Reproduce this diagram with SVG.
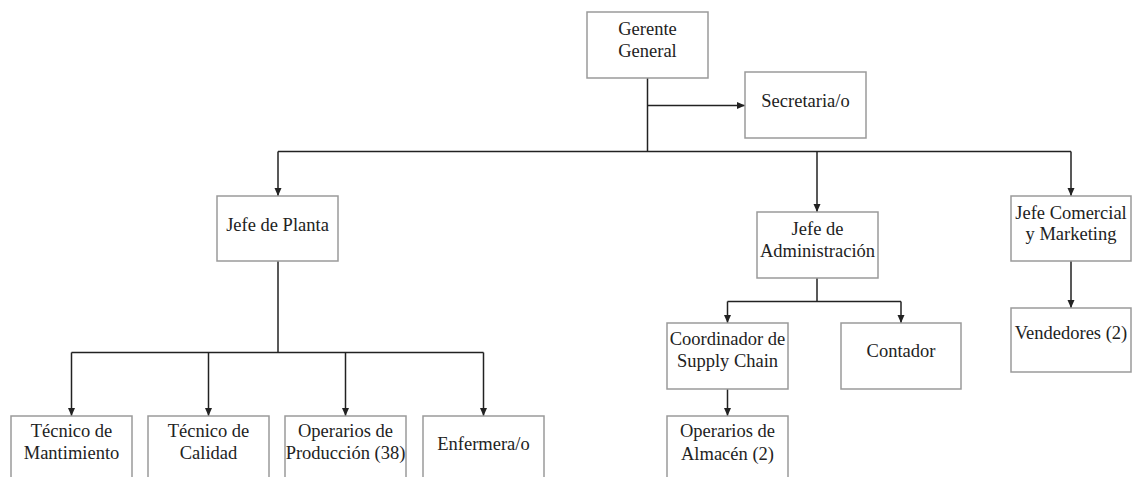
<svg xmlns="http://www.w3.org/2000/svg" width="1134" height="477" viewBox="0 0 1134 477">
  <style>
    .box { fill: #ffffff; stroke: #9a9a9a; stroke-width: 1.5; }
    .con { fill: none; stroke: #222222; stroke-width: 1.5; }
    .arr { marker-end: url(#head); }
  </style>
  <defs>
    <marker id="head" markerUnits="userSpaceOnUse" markerWidth="9" markerHeight="8" refX="8" refY="3.5" orient="auto">
      <path d="M0,0 L8,3.5 L0,7 z" fill="#222222"/>
    </marker>
  </defs>
  <rect width="1134" height="477" fill="#ffffff"/>

  <!-- connectors -->
  <g id="connectors">
    <path class="con" d="M647.5,78 V151.5"/>
    <path class="con arr" d="M647.5,105.5 H745"/>
    <path class="con" d="M278,151.5 H1071"/>
    <path class="con arr" d="M278,151.5 V196"/>
    <path class="con arr" d="M817,151.5 V212"/>
    <path class="con arr" d="M1071,151.5 V196"/>
    <!-- Jefe de Planta branch -->
    <path class="con" d="M278,261 V352.5"/>
    <path class="con" d="M71.5,352.5 H483.5"/>
    <path class="con arr" d="M71.5,352.5 V416"/>
    <path class="con arr" d="M208.5,352.5 V416"/>
    <path class="con arr" d="M345.5,352.5 V416"/>
    <path class="con arr" d="M483.5,352.5 V416"/>
    <!-- Jefe de Administración branch -->
    <path class="con" d="M817,278 V301.5"/>
    <path class="con" d="M727.5,301.5 H901"/>
    <path class="con arr" d="M727.5,301.5 V323"/>
    <path class="con arr" d="M901,301.5 V323"/>
    <path class="con arr" d="M727.5,389 V416"/>
    <!-- Jefe Comercial branch -->
    <path class="con arr" d="M1071,261 V308"/>
  </g>

  <g font-family="'Liberation Serif', 'DejaVu Serif', 'Times New Roman', serif" font-size="18.5" fill="#222222" text-anchor="middle">
  <g id="gerente">
    <rect class="box" x="587" y="12" width="121" height="66"/>
    <text x="647.5" y="35">Gerente</text>
    <text x="647.5" y="57">General</text>
  </g>
  <g id="secretaria">
    <rect class="box" x="745" y="72" width="121" height="66"/>
    <text x="805.5" y="107">Secretaria/o</text>
  </g>
  <g id="jefe-planta">
    <rect class="box" x="217" y="196" width="121" height="65"/>
    <text x="277.5" y="231">Jefe de Planta</text>
  </g>
  <g id="jefe-administracion">
    <rect class="box" x="757" y="212" width="121" height="66"/>
    <text x="817.5" y="235">Jefe de</text>
    <text x="817.5" y="257">Administración</text>
  </g>
  <g id="jefe-comercial">
    <rect class="box" x="1011" y="196" width="120" height="65"/>
    <text x="1071" y="219">Jefe Comercial</text>
    <text x="1071" y="240">y Marketing</text>
  </g>
  <g id="vendedores">
    <rect class="box" x="1011" y="308" width="120" height="64"/>
    <text x="1071" y="339">Vendedores (2)</text>
  </g>
  <g id="coordinador">
    <rect class="box" x="667" y="323" width="121" height="66"/>
    <text x="727.5" y="345">Coordinador de</text>
    <text x="727.5" y="367">Supply Chain</text>
  </g>
  <g id="contador">
    <rect class="box" x="841" y="323" width="120" height="66"/>
    <text x="901" y="357">Contador</text>
  </g>
  <g id="operarios-almacen">
    <rect class="box" x="667" y="416" width="121" height="80"/>
    <text x="727.5" y="437">Operarios de</text>
    <text x="727.5" y="460">Almacén (2)</text>
  </g>
  <g id="tecnico-mantenimiento">
    <rect class="box" x="11" y="416" width="121" height="80"/>
    <text x="71.5" y="437">Técnico de</text>
    <text x="71.5" y="459">Mantimiento</text>
  </g>
  <g id="tecnico-calidad">
    <rect class="box" x="148" y="416" width="121" height="80"/>
    <text x="208.5" y="437">Técnico de</text>
    <text x="208.5" y="459">Calidad</text>
  </g>
  <g id="operarios-produccion">
    <rect class="box" x="285" y="416" width="121" height="80"/>
    <text x="345.5" y="437">Operarios de</text>
    <text x="345.5" y="459">Producción (38)</text>
  </g>
  <g id="enfermera">
    <rect class="box" x="423" y="416" width="121" height="80"/>
    <text x="483.5" y="450">Enfermera/o</text>
  </g>
  </g>
</svg>
